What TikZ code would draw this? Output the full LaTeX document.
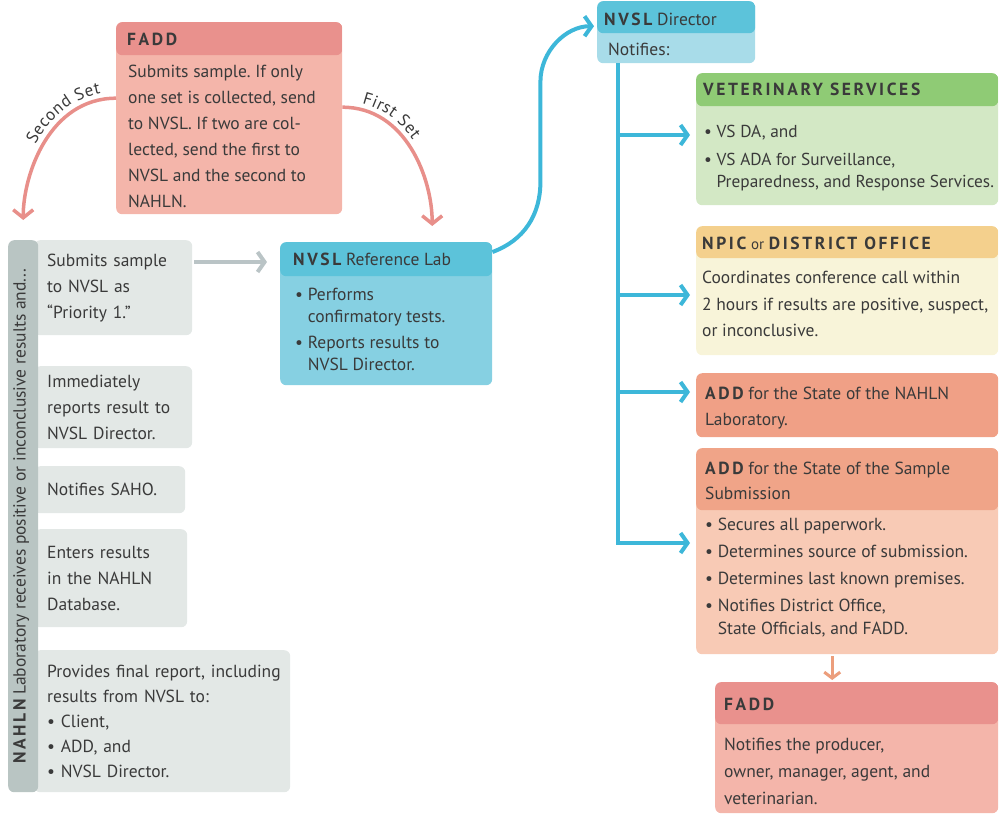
\documentclass[tikz,border=0pt]{standalone}
\usepackage{fontspec}
\setmainfont{PT Sans}
\usetikzlibrary{arrows.meta, decorations.text}

\definecolor{ink}{HTML}{3A3A3A}
\definecolor{faddhd}{HTML}{E9918D}
\definecolor{faddbg}{HTML}{F4B5AA}
\definecolor{nvslhd}{HTML}{5CC3DA}
\definecolor{nvslbg}{HTML}{86D0E2}
\definecolor{dirbg}{HTML}{A8DCE9}
\definecolor{vshd}{HTML}{8FCB75}
\definecolor{vsbg}{HTML}{D3E8C5}
\definecolor{npichd}{HTML}{F4D08D}
\definecolor{npicbg}{HTML}{F8F4D9}
\definecolor{addcol}{HTML}{F0A086}
\definecolor{addhd}{HTML}{F0A488}
\definecolor{addbg}{HTML}{F8CAB5}
\definecolor{grbar}{HTML}{B9C5C3}
\definecolor{grbox}{HTML}{E3E8E6}
\definecolor{pinkline}{HTML}{E88F8A}
\definecolor{blueline}{HTML}{3DB7D9}
\definecolor{grayline}{HTML}{BAC4C6}
\definecolor{orangeline}{HTML}{EC9E7C}

\newcommand\hd[1]{{\bfseries\addfontfeature{LetterSpace=15}#1}}
\frenchspacing

\begin{document}
\begin{tikzpicture}[x=1pt, y=1pt,
        box/.style={rounded corners=6pt, inner sep=0pt, anchor=north west},
        head/.style 2 args={path picture={\fill[#1] (path picture bounding box.north west) rectangle ([yshift=-#2]path picture bounding box.north east);}},
        txt/.style={font=\fontsize{17.5}{26}\selectfont, text=ink, align=left, inner sep=0pt, anchor=north west},
        sub/.style={box, fill=grbox, inner xsep=13pt, align=left, text=ink, font=\fontsize{17.5}{26}\selectfont},
        pinkarrow/.style={draw=pinkline, line width=3.5pt, -{Straight Barb[length=8pt, width=20pt]}},
        bluearrow/.style={draw=blueline, line width=4pt, -{Straight Barb[length=7pt, width=20pt]}},
        grayarrow/.style={draw=grayline, line width=4pt, -{Straight Barb[length=7pt, width=20pt]}},
        orangearrow/.style={draw=orangeline, line width=3pt, -{Straight Barb[length=6pt, width=16pt]}},
        setlabel/.style={decorate, decoration={text along path, text color=ink, raise=6pt}}
    ]
        \useasboundingbox (0,0) rectangle (1000,-815);

        % FADD oben
        \node[box, fill=faddbg, head={faddhd}{33pt}, minimum width=226pt, minimum height=192pt] (fadd) at (116,-22) {};
        \node[txt] (faddtitle) at (127,-32.5) {\hd{FADD}};
        \node[txt] (faddtext) at (128,-64.5) {Submits sample. If only\\one set is collected, send\\to NVSL. If two are col-\\lected, send the first to\\NVSL and the second to\\NAHLN.};

        % NAHLN Spalte
        \node[sub, minimum width=158pt, minimum height=95pt, text width=132pt] (sub1) at (34,-240) {Submits sample\\to NVSL as\\“Priority 1.”};
        \node[sub, minimum width=158pt, minimum height=82pt, text width=132pt] (sub2) at (34,-366) {Immediately\\reports result to\\NVSL Director.};
        \node[sub, minimum width=151pt, minimum height=47pt, text width=125pt] (sub3) at (34,-466) {Notifies SAHO.};
        \node[sub, minimum width=153pt, minimum height=98pt, text width=127pt] (sub4) at (34,-529) {Enters results\\in the NAHLN\\Database.};
        \node[sub, minimum width=256pt, minimum height=142pt, text width=230pt, font=\fontsize{17.5}{25}\selectfont] (sub5) at (34,-650) {\mbox{Provides final report, including}\\results from NVSL to:\\• Client,\\• ADD, and\\• NVSL Director.};
        \node[box, fill=grbar, minimum width=30pt, minimum height=552pt] (nahln) at (8,-240) {};
        \node[txt, anchor=center, rotate=90] (nahlntext) at ([xshift=-2pt]nahln.center) {\hd{NAHLN} Laboratory receives positive or inconclusive results and...};

        % NVSL Reference Lab
        \node[box, fill=nvslbg, head={nvslhd}{34pt}, minimum width=212pt, minimum height=143pt] (reflab) at (280,-242) {};
        \node[txt] (reflabtitle) at (293,-252.5) {\hd{NVSL} Reference Lab};
        \node[txt, font=\fontsize{17.5}{22}\selectfont] (reflabtext) at (295,-287.5) {• Performs\\\phantom{• }confirmatory tests.\\[4pt]• Reports results to\\\phantom{• }NVSL Director.};

        % NVSL Director
        \node[box, fill=dirbg, head={nvslhd}{32pt}, minimum width=158pt, minimum height=62pt] (dir) at (597,-1) {};
        \node[txt] (dirtitle) at (604,-12.5) {\hd{NVSL} Director};
        \node[txt] (dirtext) at (608,-42.5) {Notifies:};

        % rechte Spalte
        \node[box, fill=vsbg, head={vshd}{33pt}, minimum width=302pt, minimum height=132pt] (vs) at (696,-73) {};
        \node[txt] (vstitle) at (703,-82.5) {\hd{VETERINARY SERVICES}};
        \node[txt, font=\fontsize{17.3}{22}\selectfont] (vstext) at (704,-124.5) {• VS DA, and\\[6pt]• VS ADA for Surveillance,\\\phantom{• }Preparedness, and Response Services.};

        \node[box, fill=npicbg, head={npichd}{32pt}, minimum width=302pt, minimum height=129pt] (npic) at (696,-226) {};
        \node[txt] (npictitle) at (702,-236.5) {\hd{NPIC} {\fontsize{15}{15}\selectfont or} \hd{DISTRICT OFFICE}};
        \node[txt, font=\fontsize{17.5}{26.5}\selectfont] (npictext) at (702,-271) {Coordinates conference call within\\2 hours if results are positive, suspect,\\or inconclusive.};

        \node[box, fill=addcol, minimum width=302pt, minimum height=64pt] (addlab) at (696,-373) {};
        \node[txt] (addlabtext) at (705,-386.5) {\hd{ADD} for the State of the NAHLN\\Laboratory.};

        \node[box, fill=addbg, head={addhd}{62pt}, minimum width=302pt, minimum height=206pt] (addsub) at (696,-448) {};
        \node[txt, font=\fontsize{17.5}{25}\selectfont] (addsubtitle) at (705,-461.5) {\hd{ADD} for the State of the Sample\\Submission};
        \node[txt, font=\fontsize{17.5}{23}\selectfont] (addsubtext) at (705,-517.5) {• Secures all paperwork.\\[4pt]• Determines source of submission.\\[4pt]• Determines last known premises.\\[4pt]• Notifies District Office,\\\phantom{• }State Officials, and FADD.};

        \node[box, fill=faddbg, head={faddhd}{42pt}, minimum width=283pt, minimum height=131pt] (fadd2) at (715,-682) {};
        \node[txt] (fadd2title) at (724,-697.5) {\hd{FADD}};
        \node[txt, font=\fontsize{17.5}{27}\selectfont] (fadd2text) at (724,-737.5) {Notifies the producer,\\owner, manager, agent, and\\veterinarian.};

        % Pfeile
        \draw[pinkarrow, shorten >=20pt] ([yshift=20pt]fadd.west) to[out=180, in=90] (nahln.north);
        \path[setlabel, decoration={text align={right, right indent=14pt}, text={|\fontsize{17}{17}\selectfont|Second Set}}] ([yshift=20pt]nahln.north) to[out=90, in=180] ([yshift=20pt]fadd.west);
        \draw[pinkarrow, shorten >=16pt] ([yshift=11pt]fadd.east) to[out=0, in=90] ([xshift=46pt]reflab.north);
        \path[setlabel, decoration={text align={left, left indent=18pt}, text={|\fontsize{17}{17}\selectfont|First Set}}] ([yshift=11pt]fadd.east) to[out=0, in=90] ([xshift=46pt, yshift=16pt]reflab.north);
        \draw[grayarrow, shorten <=2pt, shorten >=13pt] ([yshift=-22pt]sub1.north east) -- ([yshift=-20pt]reflab.north west);
        \draw[bluearrow, shorten >=3pt] ([yshift=-10pt]reflab.north east) to[out=20, in=-90] ++(48,70) -- ++(0,100) to[out=90, in=180] ([yshift=6pt]dir.west);

        \coordinate (trunk) at ([xshift=21pt]dir.south west);
        \coordinate (vsin) at ([yshift=-62pt]vs.north west);
        \coordinate (npicin) at ([yshift=-69pt]npic.north west);
        \coordinate (addlabin) at ([yshift=-19pt]addlab.north west);
        \coordinate (addsubin) at ([yshift=-95pt]addsub.north west);
        \draw[bluearrow, shorten >=6pt] (trunk) |- (addsubin);
        \draw[bluearrow, shorten >=6pt] (trunk |- vsin) -- (vsin);
        \draw[bluearrow, shorten >=6pt] (trunk |- npicin) -- (npicin);
        \draw[bluearrow, shorten >=6pt] (trunk |- addlabin) -- (addlabin);

        \coordinate (down) at ([xshift=-15pt]addsub.south);
        \draw[orangearrow, shorten <=2pt, shorten >=2pt] (down) -- (down |- fadd2.north);
    \end{tikzpicture}
\end{document}
